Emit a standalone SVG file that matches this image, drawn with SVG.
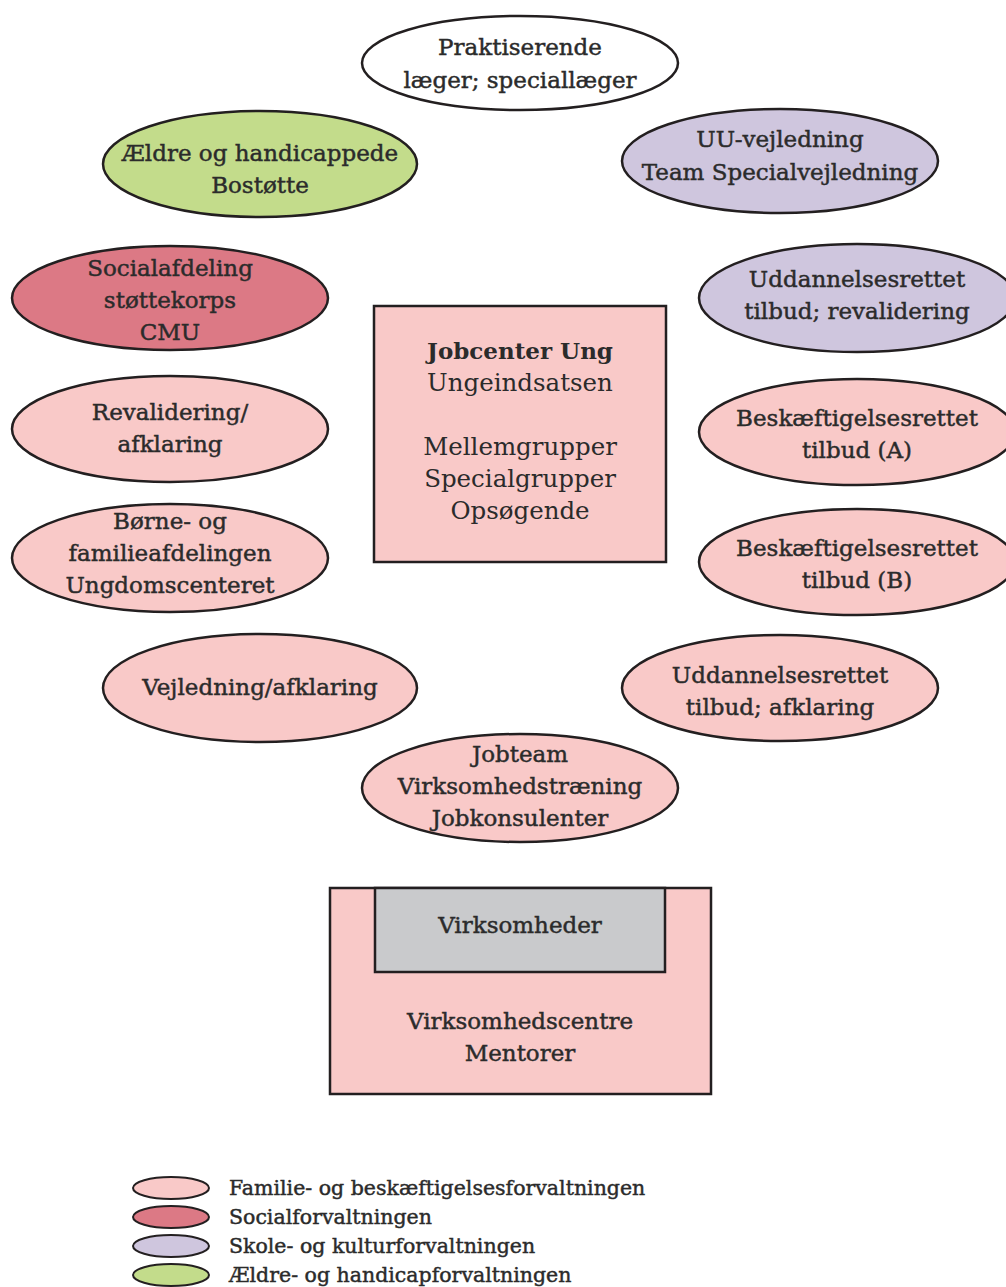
<svg xmlns="http://www.w3.org/2000/svg" width="1006" height="1287" viewBox="0 0 1006 1287">
<style>
.e{stroke:#231f20;stroke-width:2.5}
.r{stroke:#231f20;stroke-width:2.5}
.lp{fill:#f9c9c8}
.dp{fill:#dc7985}
.lv{fill:#cfc6de}
.gr{fill:#c3dc8b}
.gy{fill:#c9cacc}
.wh{fill:#ffffff}
text{font-family:"DejaVu Serif","Liberation Serif",serif;font-size:23px;fill:#2b2b2b;stroke:#2b2b2b;stroke-width:0.45;text-anchor:middle}
.lg{font-size:20.5px;text-anchor:start}
.jc{font-size:24.5px;stroke-width:0}
.b{font-weight:bold;font-size:23px;stroke-width:0}
</style>
<rect width="1006" height="1287" fill="#ffffff"/>
<g id="connectors"/>
<g id="praktiserende"><ellipse class="e wh" cx="520" cy="63" rx="158" ry="47"/><text x="520" y="55">Praktiserende</text><text x="520" y="88">læger; speciallæger</text></g>
<g id="aeldre"><ellipse class="e gr" cx="260" cy="164" rx="157" ry="53"/><text x="260" y="161">Ældre og handicappede</text><text x="260" y="193">Bostøtte</text></g>
<g id="uu"><ellipse class="e lv" cx="780" cy="161" rx="158" ry="52"/><text x="780" y="147">UU-vejledning</text><text x="780" y="180">Team Specialvejledning</text></g>
<g id="social"><ellipse class="e dp" cx="170" cy="298" rx="158" ry="52"/><text x="170" y="276">Socialafdeling</text><text x="170" y="308">støttekorps</text><text x="170" y="340">CMU</text></g>
<g id="udd-reval"><ellipse class="e lv" cx="857" cy="298" rx="158" ry="54"/><text x="857" y="287">Uddannelsesrettet</text><text x="857" y="319">tilbud; revalidering</text></g>
<g id="reval"><ellipse class="e lp" cx="170" cy="429" rx="158" ry="53"/><text x="170" y="420">Revalidering/</text><text x="170" y="452">afklaring</text></g>
<g id="besk-a"><ellipse class="e lp" cx="857" cy="432" rx="158" ry="53"/><text x="857" y="426">Beskæftigelsesrettet</text><text x="857" y="458">tilbud (A)</text></g>
<g id="boerne"><ellipse class="e lp" cx="170" cy="558" rx="158" ry="54"/><text x="170" y="529">Børne- og</text><text x="170" y="561">familieafdelingen</text><text x="170" y="593">Ungdomscenteret</text></g>
<g id="besk-b"><ellipse class="e lp" cx="857" cy="562" rx="158" ry="53"/><text x="857" y="556">Beskæftigelsesrettet</text><text x="857" y="588">tilbud (B)</text></g>
<g id="vejledning"><ellipse class="e lp" cx="260" cy="688" rx="157" ry="54"/><text x="260" y="695">Vejledning/afklaring</text></g>
<g id="udd-afkl"><ellipse class="e lp" cx="780" cy="688" rx="158" ry="53"/><text x="780" y="683">Uddannelsesrettet</text><text x="780" y="715">tilbud; afklaring</text></g>
<g id="jobteam"><ellipse class="e lp" cx="520" cy="788" rx="158" ry="54"/><text x="520" y="762">Jobteam</text><text x="520" y="794">Virksomhedstræning</text><text x="520" y="826">Jobkonsulenter</text></g>
<g id="jobcenter"><rect class="r lp" x="374" y="306" width="292" height="256"/><text class="b" x="520" y="359">Jobcenter Ung</text><text class="jc" x="520" y="391">Ungeindsatsen</text><text class="jc" x="520" y="455">Mellemgrupper</text><text class="jc" x="520" y="487">Specialgrupper</text><text class="jc" x="520" y="519">Opsøgende</text></g>
<g id="virksomhedscentre"><rect class="r lp" x="330" y="888" width="381" height="206"/><text x="520" y="1029">Virksomhedscentre</text><text x="520" y="1061">Mentorer</text></g>
<g id="virksomheder"><rect class="r gy" x="375" y="888" width="290" height="84"/><text x="520" y="933">Virksomheder</text></g>
<g id="legend">
<ellipse class="e lp" cx="171" cy="1188" rx="38" ry="11" style="stroke-width:2"/><text class="lg" x="229" y="1195">Familie- og beskæftigelsesforvaltningen</text>
<ellipse class="e dp" cx="171" cy="1217" rx="38" ry="11" style="stroke-width:2"/><text class="lg" x="229" y="1224">Socialforvaltningen</text>
<ellipse class="e lv" cx="171" cy="1246" rx="38" ry="11" style="stroke-width:2"/><text class="lg" x="229" y="1253">Skole- og kulturforvaltningen</text>
<ellipse class="e gr" cx="171" cy="1275" rx="38" ry="11" style="stroke-width:2"/><text class="lg" x="229" y="1282">Ældre- og handicapforvaltningen</text>
</g>
</svg>
